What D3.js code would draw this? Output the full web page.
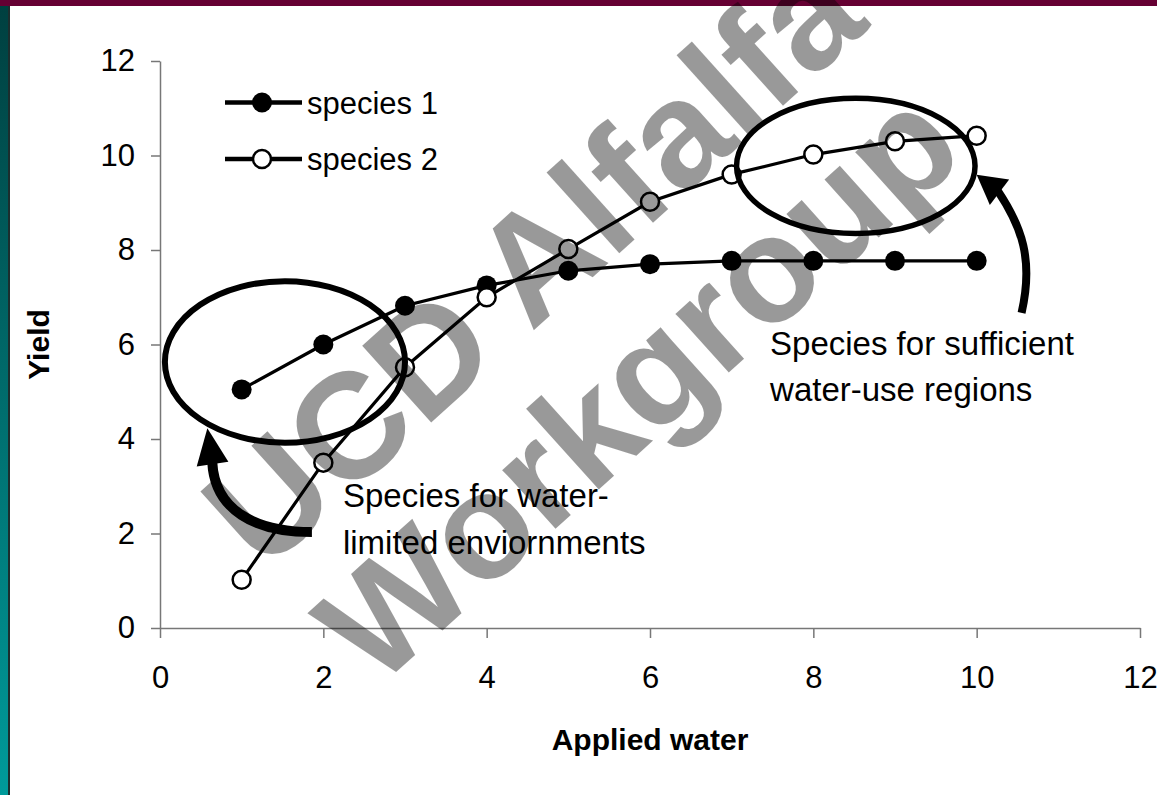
<!DOCTYPE html>
<html>
<head>
<meta charset="utf-8">
<script src="https://cdn.jsdelivr.net/npm/d3@7"></script>
<style>
  body { margin: 0; background: #fff; }
  text { font-family: "Liberation Sans", Arial, sans-serif; }
</style>
</head>
<body>
<div id="chart"></div>
<script>
// data
const appliedWater = [1, 2, 3, 4, 5, 6, 7, 8, 9, 10];
const species1 = [5.05, 6.0, 6.82, 7.25, 7.56, 7.7, 7.77, 7.77, 7.77, 7.77];
const species2 = [1.02, 3.5, 5.52, 7.0, 8.02, 9.02, 9.6, 10.02, 10.3, 10.42];
const xTicks = [0, 2, 4, 6, 8, 10, 12];
const yTicks = [0, 2, 4, 6, 8, 10, 12];
const seriesNames = ["species 1", "species 2"];

// annotations, in data units
const ellipses = [
  { cx: 1.53, cy: 5.63, rx: 1.47, ry: 1.71, w: 6 },
  { cx: 8.52, cy: 9.78, rx: 1.46, ry: 1.43, w: 5.5 }
];
const arrows = [
  { pts: [[1.86, 2.03], [1.16, 2.03], [0.67, 2.5], [0.64, 3.51]], tip: [0.58, 4.23], w: 10 },
  { pts: [[10.55, 6.67], [10.7, 7.8], [10.55, 8.5], [10.26, 9.25]], tip: [10.0, 9.59], w: 8 }
];
const notes = [
  { x: 2.24, y: 2.56, lines: ["Species for water-", "limited enviornments"] },
  { x: 7.47, y: 5.78, lines: ["Species for sufficient", "water-use regions"] }
];

const W = 1157, H = 795;
const svg = d3.select("#chart").append("svg")
    .attr("width", W)
    .attr("height", H);

// slide frame
const defs = svg.append("defs");
const grad = defs.append("linearGradient").attr("id", "side")
    .attr("x1", 0).attr("y1", 0).attr("x2", 0).attr("y2", 1);
grad.append("stop").attr("offset", "0%").attr("stop-color", "#003f3f");
grad.append("stop").attr("offset", "100%").attr("stop-color", "#009a9a");
svg.append("rect").attr("x", 0).attr("y", 0).attr("width", 8).attr("height", H).attr("fill", "url(#side)");
svg.append("rect").attr("x", 8).attr("y", 0).attr("width", 2).attr("height", H).attr("fill", "#1c2e2e");
svg.append("rect").attr("x", 0).attr("y", 0).attr("width", W).attr("height", 6).attr("fill", "#660033");

const x = d3.scaleLinear().domain([0, 12]).range([160, 1140]);
const y = d3.scaleLinear().domain([0, 12]).range([628, 61]);

// axes
const xAxis = svg.append("g")
    .attr("transform", `translate(0,${y(0)})`)
    .call(d3.axisBottom(x).tickValues(xTicks).tickSize(10).tickPadding(28).tickSizeOuter(0));
const yAxis = svg.append("g")
    .attr("transform", `translate(${x(0)},0)`)
    .call(d3.axisLeft(y).tickValues(yTicks).tickSize(9).tickPadding(16).tickSizeOuter(0));
[xAxis, yAxis].forEach(g => {
  g.select(".domain").attr("stroke", "#777").attr("stroke-width", 1.5);
  g.selectAll(".tick line").attr("stroke", "#777").attr("stroke-width", 1.5);
  g.selectAll(".tick text").attr("fill", "#000").style("font-size", "31px")
    .style("font-family", "'Liberation Sans', Arial, sans-serif");
});

svg.append("text")
    .attr("x", (x(0) + x(12)) / 2)
    .attr("y", 750)
    .attr("text-anchor", "middle")
    .style("font-size", "30px")
    .style("font-weight", "bold")
    .text("Applied water");

svg.append("text")
    .attr("transform", `translate(49,${(y(0) + y(12)) / 2}) rotate(-90)`)
    .attr("text-anchor", "middle")
    .style("font-size", "30px")
    .style("font-weight", "bold")
    .text("Yield");

// series
const line = d3.line().x(d => x(d[0])).y(d => y(d[1]));
const s1 = appliedWater.map((v, i) => [v, species1[i]]);
const s2 = appliedWater.map((v, i) => [v, species2[i]]);

svg.append("path").datum(s1).attr("d", line)
    .attr("fill", "none").attr("stroke", "#000").attr("stroke-width", 3.2);
svg.append("path").datum(s2).attr("d", line)
    .attr("fill", "none").attr("stroke", "#000").attr("stroke-width", 3.2);

svg.selectAll(".dot1").data(s1).enter().append("circle")
    .attr("cx", d => x(d[0])).attr("cy", d => y(d[1])).attr("r", 10)
    .attr("fill", "#000");
svg.selectAll(".dot2").data(s2).enter().append("circle")
    .attr("cx", d => x(d[0])).attr("cy", d => y(d[1])).attr("r", 9)
    .attr("fill", "#fff").attr("stroke", "#000").attr("stroke-width", 2.5);

// legend
const legend = svg.append("g");
seriesNames.forEach((name, i) => {
  const ly = 102.5 + i * 56.5;
  legend.append("line").attr("x1", 225).attr("x2", 302).attr("y1", ly).attr("y2", ly)
      .attr("stroke", "#000").attr("stroke-width", 4.5);
  legend.append("circle").attr("cx", 262).attr("cy", ly).attr("r", i ? 9 : 10)
      .attr("fill", i ? "#fff" : "#000").attr("stroke", "#000").attr("stroke-width", i ? 2.5 : 0);
  legend.append("text").attr("x", 307).attr("y", ly + 11)
      .style("font-size", "31px").text(name);
});

// ellipses
svg.selectAll(".ring").data(ellipses).enter().append("ellipse")
    .attr("cx", d => x(d.cx)).attr("cy", d => y(d.cy))
    .attr("rx", d => x(d.rx) - x(0)).attr("ry", d => y(0) - y(d.ry))
    .attr("fill", "none").attr("stroke", "#000").attr("stroke-width", d => d.w);

// curved arrows
arrows.forEach(a => {
  const p = a.pts.map(d => [x(d[0]), y(d[1])]);
  svg.append("path")
      .attr("d", `M${p[0]}C${p[1]} ${p[2]} ${p[3]}`)
      .attr("fill", "none").attr("stroke", "#000").attr("stroke-width", a.w);
  const tip = [x(a.tip[0]), y(a.tip[1])];
  const dx = tip[0] - p[3][0], dy = tip[1] - p[3][1];
  const len = Math.hypot(dx, dy);
  const nx = -dy / len * 16, ny = dx / len * 16;
  const bx = p[3][0] - dx / len * 2, by = p[3][1] - dy / len * 2;
  svg.append("path")
      .attr("d", `M${tip}L${bx + nx},${by + ny}L${bx - nx},${by - ny}Z`)
      .attr("fill", "#000");
});

// notes
notes.forEach(n => {
  const t = svg.append("text").attr("x", x(n.x)).attr("y", y(n.y)).style("font-size", "33px");
  n.lines.forEach((s, i) => {
    t.append("tspan").attr("x", x(n.x)).attr("dy", i ? 46.5 : 0).text(s);
  });
});

// watermark
const wm = svg.append("g")
    .attr("transform", "translate(531,260) rotate(-42)")
    .attr("fill", "#000").attr("fill-opacity", 0.4)
    .style("font-size", "150px").style("font-weight", "bold");
wm.append("text").attr("text-anchor", "middle").attr("y", 54).text("UCD Alfalfa");
wm.append("text").attr("text-anchor", "middle").attr("x", -4).attr("y", 216).text("Workgroup");
</script>
</body>
</html>
